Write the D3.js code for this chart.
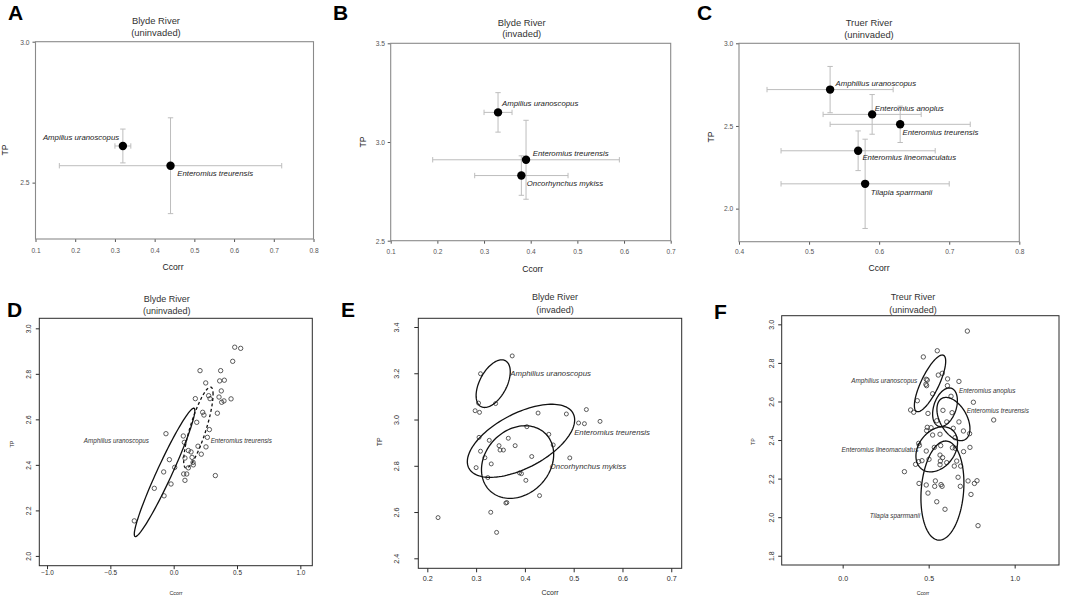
<!DOCTYPE html>
<html>
<head>
<meta charset="utf-8">
<script src="https://cdn.jsdelivr.net/npm/d3@7"></script>
<style>
body { margin: 0; background: #fff; }
svg { display: block; font-family: "Liberation Sans", Arial, sans-serif; }
</style>
</head>
<body>
<svg id="fig" width="1065" height="598"></svg>
<script>
// ---- A: Blyde River (uninvaded), means with error bars
const aSpecies = ["Ampilius uranoscopus", "Enteromius treurensis"];
const aCcorr = [0.32, 0.44];
const aCcorrLo = [0.30, 0.16];
const aCcorrHi = [0.34, 0.72];
const aTP = [2.63, 2.56];
const aTPLo = [2.57, 2.39];
const aTPHi = [2.69, 2.73];
const aXTicks = [0.1, 0.2, 0.3, 0.4, 0.5, 0.6, 0.7, 0.8];
const aYTicks = [2.5, 3.0];

// ---- B: Blyde River (invaded)
const bSpecies = ["Ampilius uranoscopus", "Enteromius treurensis", "Oncorhynchus mykiss"];
const bCcorr = [0.33, 0.39, 0.38];
const bCcorrLo = [0.30, 0.19, 0.28];
const bCcorrHi = [0.36, 0.59, 0.48];
const bTP = [3.15, 2.91, 2.83];
const bTPLo = [3.05, 2.71, 2.73];
const bTPHi = [3.25, 3.11, 2.93];
const bXTicks = [0.1, 0.2, 0.3, 0.4, 0.5, 0.6, 0.7];
const bYTicks = [2.5, 3.0, 3.5];

// ---- C: Truer River (uninvaded)
const cSpecies = ["Amphilius uranoscopus", "Enteromius anoplus", "Enteromius treurensis",
                  "Enteromius lineomaculatus", "Tilapia sparrmanii"];
const cCcorr = [0.53, 0.59, 0.63, 0.57, 0.58];
const cCcorrLo = [0.44, 0.52, 0.53, 0.46, 0.46];
const cCcorrHi = [0.62, 0.66, 0.73, 0.68, 0.70];
const cTP = [2.72, 2.57, 2.51, 2.35, 2.15];
const cTPLo = [2.58, 2.45, 2.40, 2.23, 1.88];
const cTPHi = [2.86, 2.69, 2.62, 2.47, 2.42];
const cXTicks = [0.4, 0.5, 0.6, 0.7, 0.8];
const cYTicks = [2.0, 2.5, 3.0];

// ---- D: Blyde River (uninvaded), individuals + ellipses
const dCcorr = [0.482, 0.529, 0.466, 0.208, 0.371, 0.253, 0.363, 0.400, 0.376, 0.276,
                0.287, 0.358, 0.379, 0.397, 0.453, 0.171, 0.229, 0.239, 0.345, 0.182,
                0.282, -0.061, 0.076, 0.266, 0.084, 0.192, 0.255, 0.116, 0.137, 0.218,
                -0.034, 0.089, 0.145, 0.153, 0.155, 0.008, 0.116, -0.079, 0.079, 0.103,
                0.329, 0.089, -0.021, -0.153, -0.076, -0.311];
const dTP = [2.917, 2.912, 2.855, 2.814, 2.814, 2.760, 2.769, 2.772, 2.725, 2.704,
             2.691, 2.698, 2.675, 2.681, 2.690, 2.691, 2.631, 2.619, 2.627, 2.587,
             2.555, 2.537, 2.527, 2.521, 2.499, 2.482, 2.479, 2.463, 2.457, 2.447,
             2.423, 2.430, 2.433, 2.411, 2.400, 2.389, 2.387, 2.369, 2.360, 2.360,
             2.353, 2.332, 2.316, 2.297, 2.264, 2.154];
const dSpecies = ["Amphilius uranoscopus", "Enteromius treurensis"];
const dEllCx = [-0.072, 0.195];
const dEllCy = [2.367, 2.564];
const dEllSdx = [0.239, 0.116];
const dEllSdy = [0.282, 0.178];
const dEllRho = [0.962, 0.82];
const dLabX = [-0.195, 0.292];
const dLabY = [2.505, 2.505];
const dXTicks = [-1.0, -0.5, 0.0, 0.5, 1.0];
const dYTicks = [2.0, 2.2, 2.4, 2.6, 2.8, 3.0];

// ---- E: Blyde River (invaded)
const eCcorr = [0.374, 0.309, 0.305, 0.340, 0.298, 0.307, 0.427, 0.485, 0.526, 0.510,
                0.522, 0.554, 0.404, 0.449, 0.306, 0.327, 0.366, 0.347, 0.380, 0.458,
                0.309, 0.349, 0.356, 0.318, 0.414, 0.492, 0.331, 0.300, 0.324, 0.389,
                0.393, 0.402, 0.430, 0.361, 0.363, 0.330, 0.222, 0.342];
const eTP = [3.275, 3.198, 3.071, 3.069, 3.038, 3.031, 3.028, 3.024, 3.043, 2.985,
             2.982, 2.992, 2.969, 2.936, 2.923, 2.910, 2.919, 2.887, 2.887, 2.890,
             2.863, 2.868, 2.868, 2.835, 2.840, 2.834, 2.808, 2.792, 2.749, 2.769,
             2.766, 2.737, 2.671, 2.639, 2.641, 2.599, 2.576, 2.512];
const eSpecies = ["Amphilius uranoscopus", "Enteromius treurensis", "Oncorhynchus mykiss"];
const eEllCx = [0.335, 0.392, 0.385];
const eEllCy = [3.155, 2.908, 2.816];
const eEllSdx = [0.035, 0.110, 0.074];
const eEllSdy = [0.103, 0.158, 0.157];
const eEllRho = [0.5, 0.571, 0.21];
const eLabX = [0.370, 0.501, 0.451];
const eLabY = [3.200, 2.947, 2.800];
const eXTicks = [0.2, 0.3, 0.4, 0.5, 0.6, 0.7];
const eYTicks = [2.4, 2.6, 2.8, 3.0, 3.2, 3.4];

// ---- F: Treur River (uninvaded)
const fCcorr = [0.725, 0.550, 0.469, 0.556, 0.579, 0.486, 0.492, 0.484, 0.488, 0.610,
                0.676, 0.609, 0.523, 0.630, 0.434, 0.760, 0.395, 0.413, 0.496, 0.583,
                0.636, 0.878, 0.547, 0.605, 0.676, 0.492, 0.514, 0.488, 0.643, 0.702,
                0.738, 0.523, 0.566, 0.653, 0.442, 0.446, 0.570, 0.533, 0.740, 0.638,
                0.655, 0.486, 0.703, 0.566, 0.581, 0.502, 0.461, 0.442, 0.568, 0.605,
                0.663, 0.424, 0.566, 0.649, 0.686, 0.359, 0.671, 0.539, 0.729, 0.781,
                0.444, 0.486, 0.766, 0.535, 0.572, 0.578, 0.684, 0.496, 0.746, 0.547,
                0.595, 0.787];
const fTP = [2.965, 2.863, 2.831, 2.737, 2.746, 2.715, 2.711, 2.689, 2.682, 2.717,
             2.704, 2.682, 2.640, 2.627, 2.604, 2.596, 2.556, 2.544, 2.538, 2.554,
             2.542, 2.504, 2.500, 2.494, 2.494, 2.466, 2.464, 2.449, 2.461, 2.447,
             2.433, 2.426, 2.430, 2.412, 2.383, 2.372, 2.371, 2.362, 2.362, 2.360,
             2.357, 2.343, 2.340, 2.322, 2.309, 2.300, 2.293, 2.288, 2.291, 2.283,
             2.291, 2.274, 2.272, 2.265, 2.265, 2.236, 2.207, 2.188, 2.188, 2.189,
             2.175, 2.167, 2.175, 2.160, 2.169, 2.160, 2.160, 2.125, 2.118, 2.080,
             2.041, 1.956];
const fSpecies = ["Amphilius uranoscopus", "Enteromius anoplus", "Enteromius treurensis",
                  "Enteromius lineomaculatus", "Tilapia sparrmanii"];
const fEllCx = [0.508, 0.595, 0.644, 0.547, 0.580];
const fEllCy = [2.694, 2.570, 2.509, 2.352, 2.138];
const fEllSdx = [0.091, 0.072, 0.096, 0.121, 0.125];
const fEllSdy = [0.147, 0.100, 0.112, 0.117, 0.257];
const fEllRho = [0.78, 0.35, -0.45, 0.3, 0.15];
const fLabX = [0.434, 0.676, 0.721, 0.440, 0.450];
const fLabY = [2.706, 2.656, 2.550, 2.350, 2.008];
const fXTicks = [0.0, 0.5, 1.0];
const fYTicks = [1.8, 2.0, 2.2, 2.4, 2.6, 2.8, 3.0];

const svg = d3.select("#fig");
const fmt = d3.format(".1f");

// panel letters
[["A", 8, 20], ["B", 333, 20], ["C", 697, 20], ["D", 7, 317], ["E", 341, 317], ["F", 714, 319]]
    .forEach(([t, x, y]) => {
        svg.append("text").attr("x", x).attr("y", y).text(t)
            .style("font-size", "21px").style("font-weight", "bold").attr("fill", "#000");
    });

function styleAxis(ax, color, fontSize) {
    ax.attr("font-family", null).attr("font-size", null);
    ax.select(".domain").remove();
    ax.selectAll("line").attr("stroke", color);
    ax.selectAll("text").attr("fill", color).style("font-size", fontSize + "px");
}

function drawTop(p) {
    const [x0, x1, y0, y1] = p.box;
    const x = d3.scaleLinear().domain(p.xDomain).range([x0, x1]);
    const y = d3.scaleLinear().domain(p.yDomain).range([y1, y0]);
    const g = svg.append("g");

    const xa = g.append("g").attr("transform", `translate(0,${y1})`)
        .call(d3.axisBottom(x).tickValues(p.xTicks).tickSize(3).tickFormat(fmt));
    styleAxis(xa, "#555", 6.6);
    xa.selectAll("text").attr("y", p.xLabY - y1).attr("dy", "0.35em");

    const ya = g.append("g").attr("transform", `translate(${x0},0)`)
        .call(d3.axisLeft(y).tickValues(p.yTicks).tickSize(3).tickFormat(fmt));
    styleAxis(ya, "#555", 6.7);
    ya.selectAll("text").attr("x", p.yLabX - x0).attr("dy", "0.35em");

    g.append("rect").attr("x", x0).attr("y", y0).attr("width", x1 - x0).attr("height", y1 - y0)
        .attr("fill", "none").attr("stroke", "#8a8a8a").attr("stroke-width", 1.1);

    g.selectAll(".title").data(p.title).join("text")
        .attr("x", p.titleX).attr("y", (d, i) => p.titleY[i]).attr("dy", "0.35em")
        .attr("text-anchor", "middle").attr("fill", "#333").style("font-size", "9.4px").text(d => d);

    g.append("text").attr("transform", `translate(${p.tpX},${p.tpY}) rotate(-90)`)
        .attr("text-anchor", "middle").attr("dy", "0.35em").attr("fill", "#222")
        .style("font-size", "8.6px").text("TP");
    g.append("text").attr("x", p.ccX).attr("y", p.ccY).attr("dy", "0.35em")
        .attr("text-anchor", "middle").attr("fill", "#222").style("font-size", "8.6px").text("Ccorr");

    const rows = p.species.map((s, i) => ({
        s, cc: p.cc[i], lo: p.ccLo[i], hi: p.ccHi[i], tp: p.tp[i], tlo: p.tpLo[i], thi: p.tpHi[i], off: p.offsets[i]
    }));
    const eb = g.append("g").attr("stroke", "#bdbdbd").attr("stroke-width", 1);
    const cap = 2.7;
    rows.forEach(d => {
        eb.append("line").attr("x1", x(d.lo)).attr("x2", x(d.hi)).attr("y1", y(d.tp)).attr("y2", y(d.tp));
        eb.append("line").attr("x1", x(d.cc)).attr("x2", x(d.cc)).attr("y1", y(d.tlo)).attr("y2", y(d.thi));
        [d.lo, d.hi].forEach(v => eb.append("line").attr("x1", x(v)).attr("x2", x(v))
            .attr("y1", y(d.tp) - cap).attr("y2", y(d.tp) + cap));
        [d.tlo, d.thi].forEach(v => eb.append("line").attr("x1", x(d.cc) - cap).attr("x2", x(d.cc) + cap)
            .attr("y1", y(v)).attr("y2", y(v)));
    });
    g.selectAll(".pt").data(rows).join("circle")
        .attr("cx", d => x(d.cc)).attr("cy", d => y(d.tp)).attr("r", 4.2).attr("fill", "#000");
    g.selectAll(".lab").data(rows).join("text")
        .attr("x", d => x(d.cc) + d.off[0]).attr("y", d => y(d.tp) + d.off[1]).attr("dy", "0.35em")
        .attr("text-anchor", d => d.off[2]).attr("fill", "#222")
        .style("font-size", "7.8px").style("font-style", "italic").text(d => d.s);
}

function ellipsePath(e, x, y) {
    // standard ellipse from sd's and correlation (Cholesky of the covariance)
    const l21 = e.rho * e.sdy, l22 = e.sdy * Math.sqrt(1 - e.rho * e.rho);
    const pts = d3.range(121).map(i => {
        const t = 2 * Math.PI * i / 120;
        return [x(e.cx + e.sdx * Math.cos(t)), y(e.cy + l21 * Math.cos(t) + l22 * Math.sin(t))];
    });
    return d3.line()(pts) + "Z";
}

function drawBottom(p) {
    const [x0, x1, y0, y1] = p.box;
    const x = d3.scaleLinear().domain(p.xDomain).range([x0, x1]);
    const y = d3.scaleLinear().domain(p.yDomain).range([y1, y0]);
    const g = svg.append("g");
    const ink = "#2a2a2a";

    const xa = g.append("g").attr("transform", `translate(0,${y1})`)
        .call(d3.axisBottom(x).tickValues(p.xTicks).tickSize(p.tick).tickFormat(fmt));
    styleAxis(xa, ink, p.tickFont);
    xa.selectAll("text").attr("y", p.xLabY - y1).attr("dy", "0.35em");

    const ya = g.append("g").attr("transform", `translate(${x0},0)`)
        .call(d3.axisLeft(y).tickValues(p.yTicks).tickSize(p.tick).tickFormat(fmt));
    styleAxis(ya, ink, p.tickFont);
    ya.selectAll("text").attr("x", null).attr("dy", "0.35em").attr("text-anchor", "middle")
        .attr("transform", `translate(${p.yLabX - x0},0) rotate(-90)`);

    g.append("rect").attr("x", x0).attr("y", y0).attr("width", x1 - x0).attr("height", y1 - y0)
        .attr("fill", "none").attr("stroke", ink).attr("stroke-width", 1);

    g.selectAll(".title").data(p.title).join("text")
        .attr("x", p.titleX).attr("y", (d, i) => p.titleY[i]).attr("dy", "0.35em")
        .attr("text-anchor", "middle").attr("fill", "#333").style("font-size", "9px").text(d => d);

    g.append("text").attr("transform", `translate(${p.tpX},${p.tpY}) rotate(-90)`)
        .attr("text-anchor", "middle").attr("dy", "0.35em").attr("fill", ink)
        .style("font-size", p.axisFont + "px").text("TP");
    g.append("text").attr("x", p.ccX).attr("y", p.ccY).attr("dy", "0.35em")
        .attr("text-anchor", "middle").attr("fill", ink).style("font-size", p.axisFont + "px").text("Ccorr");

    g.selectAll(".pt").data(p.cc.map((c, i) => [c, p.tp[i]])).join("circle")
        .attr("cx", d => x(d[0])).attr("cy", d => y(d[1])).attr("r", p.r)
        .attr("fill", "none").attr("stroke", "#333").attr("stroke-width", 0.8);

    const ells = p.species.map((s, i) => ({
        s, cx: p.ex[i], cy: p.ey[i], sdx: p.esx[i], sdy: p.esy[i], rho: p.erho[i],
        lx: p.lx[i], ly: p.ly[i], anchor: p.anchors[i], dash: p.dashes[i]
    }));
    g.selectAll(".ell").data(ells).join("path")
        .attr("d", d => ellipsePath(d, x, y)).attr("fill", "none")
        .attr("stroke", "#111").attr("stroke-width", 1.3)
        .attr("stroke-dasharray", d => d.dash);
    g.selectAll(".lab").data(ells).join("text")
        .attr("x", d => x(d.lx)).attr("y", d => y(d.ly)).attr("dy", "0.35em")
        .attr("text-anchor", d => d.anchor).attr("fill", "#333")
        .style("font-size", p.labFont + "px").style("font-style", "italic").text(d => d.s);
}

drawTop({
    box: [35.5, 313.5, 41.7, 239], xDomain: [0.1, 0.8], yDomain: [2.3, 3.0],
    xTicks: aXTicks, yTicks: aYTicks, xLabY: 251, yLabX: 29.5,
    title: ["Blyde River", "(uninvaded)"], titleX: 156, titleY: [21, 33],
    tpX: 5, tpY: 150, ccX: 173, ccY: 267,
    species: aSpecies, cc: aCcorr, ccLo: aCcorrLo, ccHi: aCcorrHi, tp: aTP, tpLo: aTPLo, tpHi: aTPHi,
    offsets: [[-3.7, -8.3, "end"], [6.7, 7.6, "start"]]
});
drawTop({
    box: [390.7, 670.7, 43.3, 240.7], xDomain: [0.1, 0.7], yDomain: [2.5, 3.5],
    xTicks: bXTicks, yTicks: bYTicks, xLabY: 252, yLabX: 385,
    title: ["Blyde River", "(invaded)"], titleX: 521.7, titleY: [22.7, 34],
    tpX: 363, tpY: 142, ccX: 532.7, ccY: 269,
    species: bSpecies, cc: bCcorr, ccLo: bCcorrLo, ccHi: bCcorrHi, tp: bTP, tpLo: bTPLo, tpHi: bTPHi,
    offsets: [[4, -9, "start"], [6.7, -6.3, "start"], [5.4, 7.4, "start"]]
});
drawTop({
    box: [739, 1019.3, 43.3, 241.7], xDomain: [0.4, 0.8], yDomain: [1.8, 3.0],
    xTicks: cXTicks, yTicks: cYTicks, xLabY: 252, yLabX: 733.3,
    title: ["Truer River", "(uninvaded)"], titleX: 869, titleY: [23, 35],
    tpX: 711, tpY: 137, ccX: 879, ccY: 268,
    species: cSpecies, cc: cCcorr, ccLo: cCcorrLo, ccHi: cCcorrHi, tp: cTP, tpLo: cTPLo, tpHi: cTPHi,
    offsets: [[5.4, -6.6, "start"], [2.7, -6.3, "start"], [2.3, 7.7, "start"], [4.3, 6.3, "start"], [5.7, 8.3, "start"]]
});

drawBottom({
    box: [39.3, 312.3, 318.3, 565.7], xDomain: [-1.061, 1.0945], yDomain: [1.957, 3.044],
    xTicks: dXTicks, yTicks: dYTicks, xLabY: 573, yLabX: 28.3, tick: 3.5,
    tickFont: 6.4, labFont: 6.3, axisFont: 5.4, r: 2.2,
    title: ["Blyde River", "(uninvaded)"], titleX: 166.7, titleY: [299, 311],
    tpX: 11.7, tpY: 444, ccX: 176, ccY: 593,
    cc: dCcorr, tp: dTP, species: dSpecies, ex: dEllCx, ey: dEllCy, esx: dEllSdx, esy: dEllSdy, erho: dEllRho,
    lx: dLabX, ly: dLabY, anchors: ["end", "start"], dashes: [null, "3,2.5"]
});
drawBottom({
    box: [418.3, 681.7, 318.3, 568.3], xDomain: [0.1815, 0.7214], yDomain: [2.3568, 3.4376],
    xTicks: eXTicks, yTicks: eYTicks, xLabY: 578.3, yLabX: 396.7, tick: 4,
    tickFont: 7.2, labFont: 7.8, axisFont: 7, r: 2,
    title: ["Blyde River", "(invaded)"], titleX: 555, titleY: [297, 310],
    tpX: 380, tpY: 441.7, ccX: 550, ccY: 593,
    cc: eCcorr, tp: eTP, species: eSpecies, ex: eEllCx, ey: eEllCy, esx: eEllSdx, esy: eEllSdy, erho: eEllRho,
    lx: eLabX, ly: eLabY, anchors: ["start", "start", "start"], dashes: [null, null, null]
});
drawBottom({
    box: [781.7, 1059, 315.7, 565], xDomain: [-0.3545, 1.2578], yDomain: [1.752, 3.0448],
    xTicks: fXTicks, yTicks: fYTicks, xLabY: 578.3, yLabX: 771.7, tick: 3.5,
    tickFont: 7, labFont: 6.4, axisFont: 5.2, r: 2.2,
    title: ["Treur River", "(uninvaded)"], titleX: 913, titleY: [297, 310],
    tpX: 753, tpY: 441.7, ccX: 923, ccY: 593,
    cc: fCcorr, tp: fTP, species: fSpecies, ex: fEllCx, ey: fEllCy, esx: fEllSdx, esy: fEllSdy, erho: fEllRho,
    lx: fLabX, ly: fLabY, anchors: ["end", "start", "start", "end", "end"], dashes: [null, null, null, null, null]
});
</script>
</body>
</html>
